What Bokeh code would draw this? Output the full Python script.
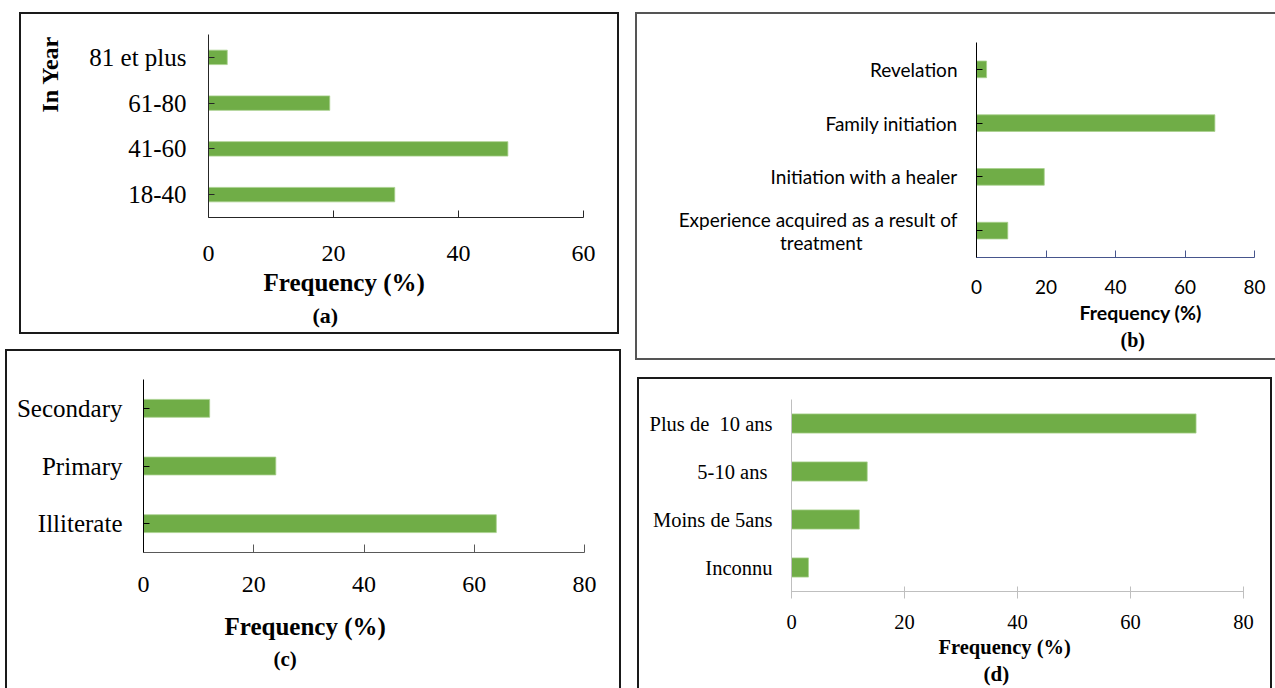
from bokeh.plotting import figure
from bokeh.models import Range1d, FactorRange, FixedTicker, Title
from bokeh.layouts import row, column
from bokeh.embed import file_html
from bokeh.resources import INLINE

# (a) age of the healers
age_groups = ["18-40", "41-60", "61-80", "81 et plus"]
age_freq = [29.8, 47.9, 19.4, 3.0]
age_ticks = [0, 20, 40, 60]

# (b) how the knowledge was acquired
# (wide spaces after "treatment" centre the second line under the first)
learning_modes = ["Experience acquired as a result of\ntreatment" + "\u2003" * 6 + "\u2002",
                  "Initiation with a healer", "Family initiation", "Revelation"]
learning_freq = [9.0, 19.5, 68.6, 2.9]
learning_ticks = [0, 20, 40, 60, 80]

# (c) level of education
education_levels = ["Illiterate", "Primary", "Secondary"]
education_freq = [64.0, 24.0, 12.0]
education_ticks = [0, 20, 40, 60, 80]

# (d) years of practice
practice_years = ["Inconnu", "Moins de 5ans", "5-10 ans\u00a0", "Plus de \u00a010 ans"]
practice_freq = [3.0, 12.0, 13.4, 71.6]
practice_ticks = [0, 20, 40, 60, 80]

BAR = "#70ad47"
SERIF = "Liberation Serif"
SANS = "Lato"


def panel(cats, vals, ticks, w, h, left, right, top, bottom, bar_h,
          border_sides, border_color, margin):
    styles = {f"border-{s}": f"2px solid {border_color}" for s in border_sides}
    p = figure(width=w, height=h, output_backend="svg", toolbar_location=None,
               x_range=Range1d(0, ticks[-1]),
               y_range=FactorRange(factors=cats, range_padding=0),
               min_border_left=left, min_border_right=right,
               min_border_top=top, min_border_bottom=bottom,
               frame_align=False, styles=styles, margin=margin)
    p.hbar(y=cats, right=vals, left=0, height=bar_h, fill_color=BAR,
           line_color="#a8d08d", line_width=0.8)
    p.xgrid.visible = False
    p.ygrid.visible = False
    p.outline_line_color = None
    p.background_fill_color = "white"
    p.border_fill_color = "white"
    p.xaxis.ticker = FixedTicker(ticks=ticks)
    p.xaxis.minor_tick_line_color = None
    p.yaxis.minor_tick_line_color = None
    p.xaxis.major_tick_out = 0
    p.yaxis.major_tick_out = 0
    p.xaxis.major_label_text_color = "black"
    p.yaxis.major_label_text_color = "black"
    return p


def spacer(axis, px):
    # blank axis title used only as extra room beside the tick labels
    axis.axis_label = " "
    axis.axis_label_text_font_size = "1px"
    axis.axis_label_standoff = px


def caption(p, text, side, offset, standoff, size, font=SERIF):
    p.add_layout(Title(text=text, align="left", offset=offset, standoff=standoff,
                       text_font=font, text_font_size=size, text_font_style="bold",
                       text_color="black"), side)


# ---- (a)
pa = panel(age_groups, age_freq, age_ticks, 600, 322, 187, 38, 20, 119, 0.316,
           ["top", "left", "right", "bottom"], "#1a1a1a", (12, 0, 0, 19))
for ax in (pa.xaxis, pa.yaxis):
    ax.major_label_text_font = SERIF
    ax.axis_line_color = "#262626"
    ax.major_tick_line_color = "#262626"
pa.xaxis.major_label_text_font_size = "24px"
pa.yaxis.major_label_text_font_size = "25px"
pa.xaxis.major_tick_in = 7
pa.yaxis.major_tick_in = 6
pa.xaxis.major_label_standoff = 28
pa.yaxis.major_label_standoff = 22
spacer(pa.yaxis[0], 20)
caption(pa, "Frequency (%)", "below", 55, 6, "25px")
caption(pa, "(a)", "below", 104, 4, "22px")
caption(pa, "In Year", "left", 105, 0, "24px")

# ---- (b)
pb = panel(learning_modes, learning_freq, learning_ticks, 640, 348, 339, 23, 28, 105, 0.31,
           ["top", "left", "bottom"], "#555555", (12, 0, 0, 14))
for ax in (pb.xaxis, pb.yaxis):
    ax.major_label_text_font = SANS
    ax.major_label_text_font_size = "19px"
pb.yaxis.major_label_text_line_height = 1.0
pb.xaxis.axis_line_color = "#46558c"
pb.xaxis.major_tick_line_color = "#46558c"
pb.yaxis.axis_line_color = "black"
pb.yaxis.major_tick_line_color = "black"
pb.xaxis.major_tick_in = 7
pb.yaxis.major_tick_in = 6
pb.xaxis.major_label_standoff = 22
pb.yaxis.major_label_standoff = 19
caption(pb, "Frequency (%)", "below", 103, 4, "19.5px", font=SANS)
caption(pb, "(b)", "below", 144, 2, "20px")

# ---- (c)
pc = panel(education_levels, education_freq, education_ticks, 616, 339, 136, 39, 28, 138, 0.31,
           ["top", "left", "right"], "#1a1a1a", (15, 0, 0, 5))
for ax in (pc.xaxis, pc.yaxis):
    ax.major_label_text_font = SERIF
pc.xaxis.major_label_text_font_size = "24px"
pc.yaxis.major_label_text_font_size = "25px"
pc.xaxis.axis_line_color = "#595959"
pc.xaxis.major_tick_line_color = "#595959"
pc.yaxis.axis_line_color = "black"
pc.yaxis.major_tick_line_color = "black"
pc.xaxis.major_tick_in = 8
pc.yaxis.major_tick_in = 6
pc.xaxis.major_label_standoff = 24
pc.yaxis.major_label_standoff = 21
spacer(pc.xaxis[0], 7)
caption(pc, "Frequency (%)", "below", 81, 10, "25px")
caption(pc, "(c)", "below", 130, 0, "21px")

# ---- (d)
pd_ = panel(practice_years, practice_freq, practice_ticks, 635, 311, 152, 31, 20, 99, 0.40,
            ["top", "left", "right"], "#1a1a1a", (17, 0, 0, 16))
for ax in (pd_.xaxis, pd_.yaxis):
    ax.major_label_text_font = SERIF
    ax.major_label_text_font_size = "20.5px"
    ax.axis_line_color = "#bfbfbf"
    ax.major_tick_line_color = "#bfbfbf"
pd_.xaxis.major_tick_in = 5
pd_.xaxis.major_tick_out = 7
pd_.yaxis.major_tick_in = 0
pd_.xaxis.major_label_standoff = 16
pd_.yaxis.major_label_standoff = 19
caption(pd_, "Frequency (%)", "below", 147, 4, "20.5px")
caption(pd_, "(d)", "below", 192, 0, "21px")

layout = row(column(pa, pc), column(pb, pd_))
open("out.html", "w").write(file_html(layout, INLINE))
